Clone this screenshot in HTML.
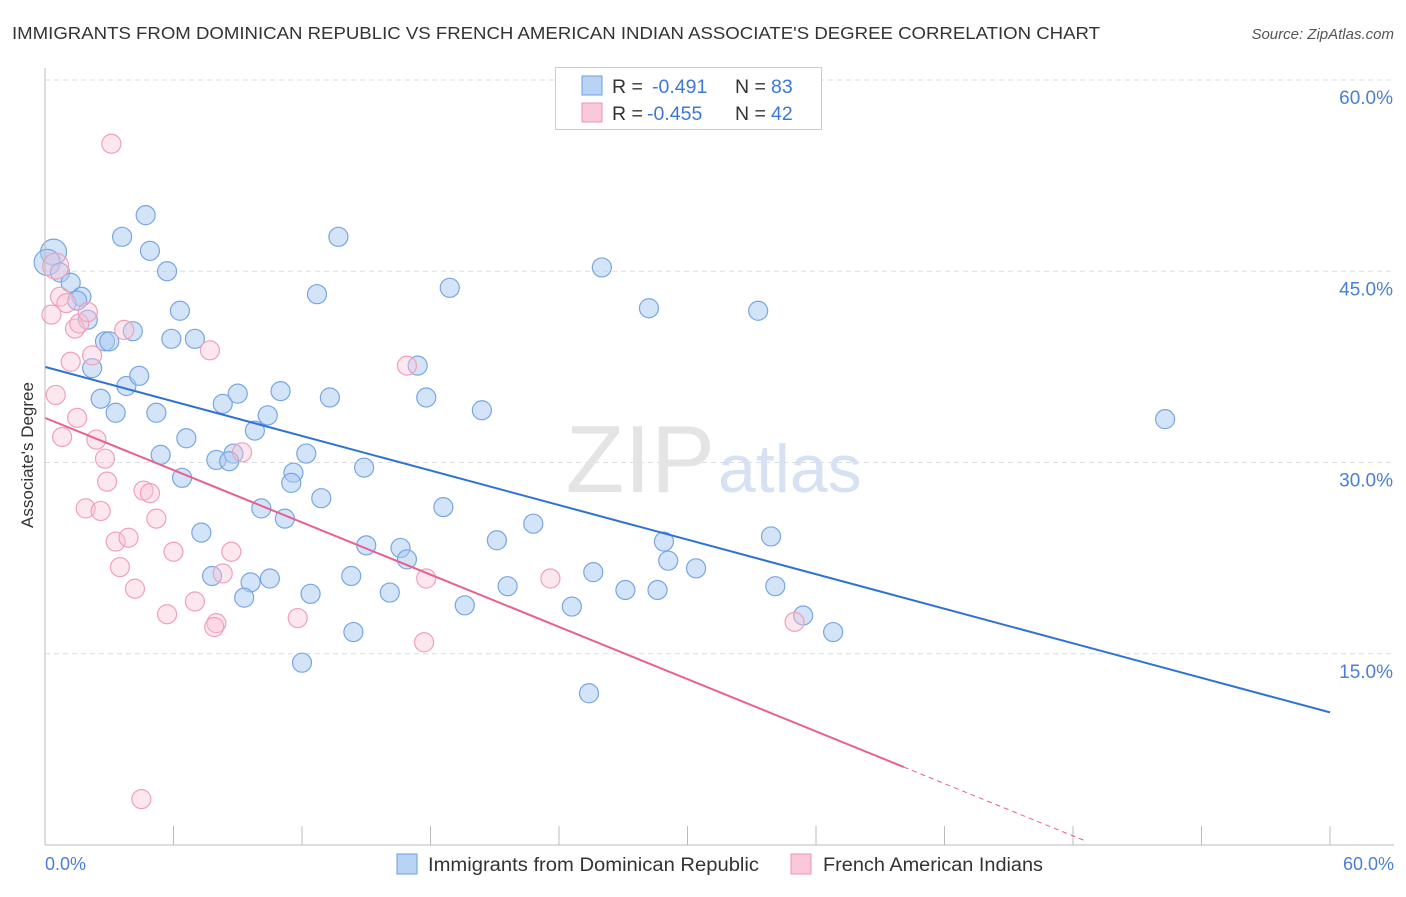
<!DOCTYPE html>
<html><head><meta charset="utf-8"><style>
body{margin:0;background:#fff;font-family:"Liberation Sans",sans-serif;}
svg text{font-family:"Liberation Sans",sans-serif;}
</style></head><body>
<svg id="chart" width="1406" height="892" xmlns="http://www.w3.org/2000/svg">
<text x="12" y="39" font-size="17.5" fill="#333" textLength="1088" lengthAdjust="spacingAndGlyphs">IMMIGRANTS FROM DOMINICAN REPUBLIC VS FRENCH AMERICAN INDIAN ASSOCIATE'S DEGREE CORRELATION CHART</text>
<text x="1394" y="39" font-size="15" fill="#555" font-style="italic" text-anchor="end">Source: ZipAtlas.com</text>
<g id="grid"></g>
<text x="715" y="492" font-size="96" fill="#e4e4e4" text-anchor="end" font-family="Liberation Serif">ZIP</text>
<text x="718" y="492" font-size="68" fill="#d6e2f3">atlas</text>
<g id="pts"></g>
<g id="lines"></g>
<line x1="45" y1="68" x2="45" y2="845" stroke="#bbb"/>
<line x1="45" y1="845" x2="1394" y2="845" stroke="#bbb"/>
<text x="33" y="455" font-size="17" fill="#333" text-anchor="middle" transform="rotate(-90 33 455)">Associate's Degree</text>
<text x="45" y="870" font-size="18" fill="#4a7fd6">0.0%</text>
<text x="1394" y="870" font-size="18" fill="#4a7fd6" text-anchor="end">60.0%</text>
<g>
<rect x="555.5" y="67.5" width="266" height="62" fill="#fff" stroke="#ccc"/>
<rect x="582" y="76" width="20" height="19" fill="#b9d3f5" stroke="#6d9fe0"/>
<rect x="582" y="103" width="20" height="19" fill="#fbc8d8" stroke="#ee93b0"/>
<text x="612" y="93" font-size="19.5" fill="#333">R = </text><text x="652" y="93" font-size="19.5" fill="#3d78d6">-0.491</text>
<text x="735" y="93" font-size="19.5" fill="#333">N = </text><text x="771" y="93" font-size="19.5" fill="#3d78d6">83</text>
<text x="612" y="120" font-size="19.5" fill="#333">R = </text><text x="647" y="120" font-size="19.5" fill="#3d78d6">-0.455</text>
<text x="735" y="120" font-size="19.5" fill="#333">N = </text><text x="771" y="120" font-size="19.5" fill="#3d78d6">42</text>
</g>
<g>
<rect x="397" y="854" width="20" height="20" fill="#b9d3f5" stroke="#6d9fe0"/>
<text x="428" y="871" font-size="19" fill="#333" textLength="331" lengthAdjust="spacingAndGlyphs">Immigrants from Dominican Republic</text>
<rect x="791" y="854" width="20" height="20" fill="#fbc8d8" stroke="#ee93b0"/>
<text x="823" y="871" font-size="19" fill="#333" textLength="220" lengthAdjust="spacingAndGlyphs">French American Indians</text>
</g>
</svg>
<script>
const yTicks=[15,30,45,60];
const yTickLabels=["15.0%","30.0%","45.0%","60.0%"];
const xTicks=[0,6,12,18,24,30,36,42,48,54,60];
const blueX=[0.4,0.1,0.7,1.2,1.7,1.5,2.0,2.8,3.0,2.2,2.6,3.3,3.8,4.4,4.1,3.6,4.7,4.9,5.7,6.3,5.9,7.0,5.2,5.4,6.6,6.4,8.3,9.0,8.8,8.0,8.6,9.8,10.4,11.0,12.7,13.7,13.3,12.2,11.6,11.5,12.9,10.1,11.2,7.3,7.8,9.6,10.5,9.3,12.4,12.0,14.9,15.0,14.3,14.4,17.4,17.8,18.9,20.4,18.6,16.6,16.9,16.1,19.6,21.1,22.8,21.6,24.6,25.6,25.4,26.0,28.2,27.1,28.6,28.9,29.1,30.4,33.3,33.9,34.1,35.4,36.8,52.3];
const blueY=[46.5,45.7,44.9,44.1,43.0,42.7,41.2,39.5,39.5,37.4,35.0,33.9,36.0,36.8,40.3,47.7,49.4,46.6,45.0,41.9,39.7,39.7,33.9,30.6,31.9,28.8,34.6,35.4,30.7,30.2,30.1,32.5,33.7,35.6,43.2,47.7,35.1,30.7,29.2,28.4,27.2,26.4,25.6,24.5,21.1,20.6,20.9,19.4,19.7,14.3,29.6,23.5,21.1,16.7,37.6,35.1,43.7,34.1,26.5,23.3,22.4,19.8,18.8,23.9,25.2,20.3,18.7,21.4,11.9,45.3,42.1,20.0,20.0,23.8,22.3,21.7,41.9,24.2,20.3,18.0,16.7,33.4];
const blueBig=[1,1];
const pinkX=[3.1,0.5,0.7,1.0,0.3,1.4,1.6,2.0,3.7,2.2,1.2,0.5,1.5,0.8,2.4,2.8,2.9,1.9,2.6,4.6,4.9,5.2,3.3,3.9,6.0,3.5,4.2,5.7,7.0,7.7,8.7,8.3,8.0,7.9,9.2,11.8,16.9,17.8,17.7,23.6,35.0,4.5];
const pinkY=[55.0,45.4,43.0,42.5,41.6,40.5,40.9,41.8,40.4,38.4,37.9,35.3,33.5,32.0,31.8,30.3,28.5,26.4,26.2,27.8,27.6,25.6,23.8,24.1,23.0,21.8,20.1,18.1,19.1,38.8,23.0,21.3,17.4,17.1,30.8,17.8,37.6,20.9,15.9,20.9,17.5,3.6];
const blueTrend=[37.5,10.4];   // y at x=0 and x=60
const pinkTrend=[33.5,-0.683]; // intercept, slope
const pinkSolidEnd=40.1, pinkDashEnd=48.6;

const X0=45,X1=1330,Y0=845,Y60=80;
const sx=v=>X0+(v/60)*(X1-X0);
const sy=v=>Y0-(v/60)*(Y0-Y60);
const NS="http://www.w3.org/2000/svg";
function mk(tag,attrs,parent){const e=document.createElementNS(NS,tag);for(const k in attrs)e.setAttribute(k,attrs[k]);document.getElementById(parent).appendChild(e);return e;}
yTicks.forEach((t,i)=>{
  const l=mk('line',{x1:45,x2:1394,y1:sy(t),y2:sy(t),stroke:'#ddd','stroke-dasharray':'5,4'},'grid');
  
  
  const tx=mk('text',{x:1393,y:sy(t)+24,'font-size':19,fill:'#4a7fd6','text-anchor':'end'},'grid');
  tx.textContent=yTickLabels[i];
  
  
});
xTicks.forEach(t=>{
  const l=mk('line',{x1:sx(t),x2:sx(t),y1:826,y2:845,stroke:'#bbb'},'grid');
  
  
});
blueX.forEach((x,i)=>{
  const r=i<blueBig.length?13:9.5;
  const c=mk('circle',{cx:sx(x),cy:sy(blueY[i]),r:r,fill:'rgba(170,202,242,0.5)',stroke:'#78a6e2','stroke-width':1.2},'pts');
  
  
});
pinkX.forEach((x,i)=>{
  const r=i==1?13:9.5;
  const c=mk('circle',{cx:sx(x),cy:sy(pinkY[i]),r:r,fill:'rgba(250,195,213,0.4)',stroke:'#f0a0ba','stroke-width':1.2},'pts');
  
  
});
const bl=mk('line',{x1:sx(0),y1:sy(blueTrend[0]),x2:sx(60),y2:sy(blueTrend[1]),stroke:'#2f72d6','stroke-width':2},'lines');


const pf=x=>pinkTrend[0]+pinkTrend[1]*x;
const pl=mk('line',{x1:sx(0),y1:sy(pf(0)),x2:sx(pinkSolidEnd),y2:sy(pf(pinkSolidEnd)),stroke:'#e8608e','stroke-width':2},'lines');


const pd=mk('line',{x1:sx(pinkSolidEnd),y1:sy(pf(pinkSolidEnd)),x2:sx(pinkDashEnd),y2:sy(pf(pinkDashEnd)),stroke:'#e8608e','stroke-width':1,'stroke-dasharray':'5,4'},'lines');


</script>
</body></html>
